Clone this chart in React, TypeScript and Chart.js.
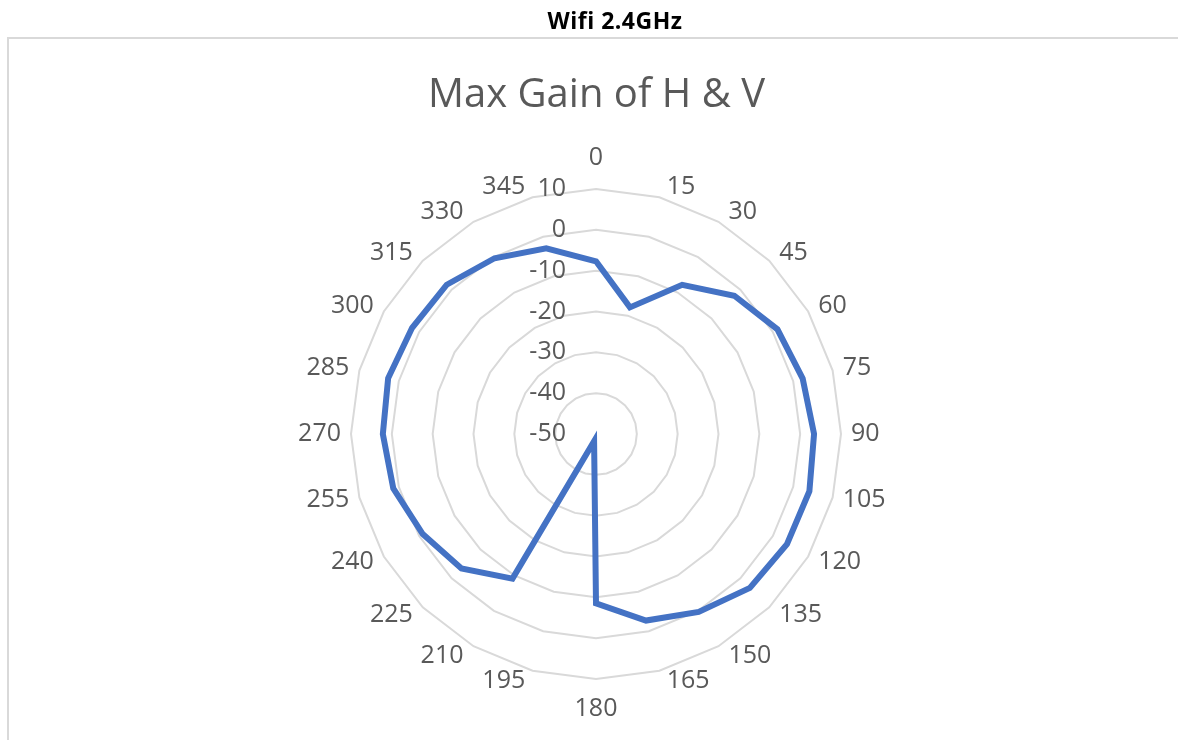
import React, { useEffect, useRef } from "react";
import { Chart, registerables } from "chart.js";

Chart.register(...registerables);

const pageTitle = "Wifi 2.4GHz";
const chartTitle = "Max Gain of H & V";
const angleLabels = [
  "0", "15", "30", "45", "60", "75", "90", "105", "120", "135", "150", "165",
  "180", "195", "210", "225", "240", "255", "270", "285", "300", "315", "330", "345",
];
const gainValues = [
  -7.7, -17.9, -7.8, -2.1, 1.3, 2.4, 3.4, 4.1, 4.0, 3.3, 0.3, -2.7,
  -8.5, -48.2, -9.1, -3.4, -1.0, 1.4, 2.2, 2.7, 2.0, 1.7, -0.3, -2.9,
];
const tickValues = [10, 0, -10, -20, -30, -40, -50];

const FONT = '"Open Sans", "DejaVu Sans", sans-serif';
const TEXT_COLOR = "#595959";
const LABEL_SIZE = 25;

const labelPlugin = {
  id: "excelLabels",
  afterDatasetsDraw(chart: any) {
    const s = chart.scales.r;
    const ctx = chart.ctx;
    ctx.save();
    ctx.font = `${LABEL_SIZE}px ${FONT}`;
    ctx.fillStyle = TEXT_COLOR;
    ctx.textBaseline = "middle";
    // value (tick) labels, right-aligned left of the 0° axis
    ctx.textAlign = "right";
    tickValues.forEach((v) => {
      const d = s.getDistanceFromCenterForValue(v);
      ctx.fillText(String(v), s.xCenter - 30, s.yCenter - d);
    });
    // category (angle) labels around the outer ring
    const n = angleLabels.length;
    angleLabels.forEach((lab, i) => {
      const p = s.getPointPosition(i, s.drawingArea);
      const deg = (i * 360) / n;
      const c = Math.cos((deg * Math.PI) / 180);
      const gap = 10 - 4 * Math.max(0, Math.abs(c) - 0.9) * 10;
      if (deg === 0) {
        ctx.textAlign = "center";
        ctx.fillText(lab, p.x, p.y - 31);
      } else if (deg === 180) {
        ctx.textAlign = "center";
        ctx.fillText(lab, p.x, p.y + 30);
      } else if (deg < 180) {
        ctx.textAlign = "left";
        ctx.fillText(lab, p.x + gap, p.y - 11 * c);
      } else {
        ctx.textAlign = "right";
        ctx.fillText(lab, p.x - gap, p.y - 11 * c);
      }
    });
    ctx.restore();
  },
};

export default function App() {
  const ref = useRef<HTMLCanvasElement | null>(null);

  useEffect(() => {
    if (!ref.current) return;
    const chart = new Chart(ref.current, {
      type: "radar",
      data: {
        labels: angleLabels,
        datasets: [
          {
            label: chartTitle,
            data: gainValues,
            borderColor: "#4472C4",
            backgroundColor: "#4472C4",
            borderWidth: 6,
            pointRadius: 0,
            pointHoverRadius: 0,
            fill: false,
            tension: 0,
          },
        ],
      },
      options: {
        responsive: false,
        animation: false,
        layout: { padding: { top: 0, bottom: 60, left: 15, right: 0 } },
        plugins: {
          legend: { display: false },
          tooltip: { enabled: false },
          title: {
            display: true,
            text: chartTitle,
            color: TEXT_COLOR,
            font: { family: FONT, size: 40, weight: "normal", lineHeight: 1.2 },
            padding: { top: 72, bottom: 69 },
          },
        },
        scales: {
          r: {
            min: -50,
            max: 10,
            ticks: { display: false, stepSize: 10 },
            grid: { circular: false, color: "#d9d9d9", lineWidth: 2 },
            angleLines: { display: false },
            pointLabels: { display: false },
          },
        },
      },
      plugins: [labelPlugin],
    } as any);
    return () => chart.destroy();
  }, []);

  return (
    <div
      style={{
        position: "absolute",
        left: 0,
        top: 0,
        width: 1178,
        height: 740,
        overflow: "hidden",
        background: "#ffffff",
      }}
    >
      <div
        style={{
          position: "absolute",
          left: 7,
          top: 37,
          width: 1300,
          height: 900,
          border: "2px solid #d9d9d9",
          boxSizing: "border-box",
        }}
      />
      <canvas
        ref={ref}
        width={1178}
        height={740}
        style={{ position: "absolute", left: 0, top: 0, width: 1178, height: 740 }}
      />
      <div
        style={{
          position: "absolute",
          left: 0,
          top: 5,
          width: 1230,
          textAlign: "center",
          fontFamily: FONT,
          fontWeight: 700,
          fontSize: 23,
          lineHeight: "30px",
          color: "#000000",
          letterSpacing: 0.5,
        }}
      >
        {pageTitle}
      </div>
    </div>
  );
}
